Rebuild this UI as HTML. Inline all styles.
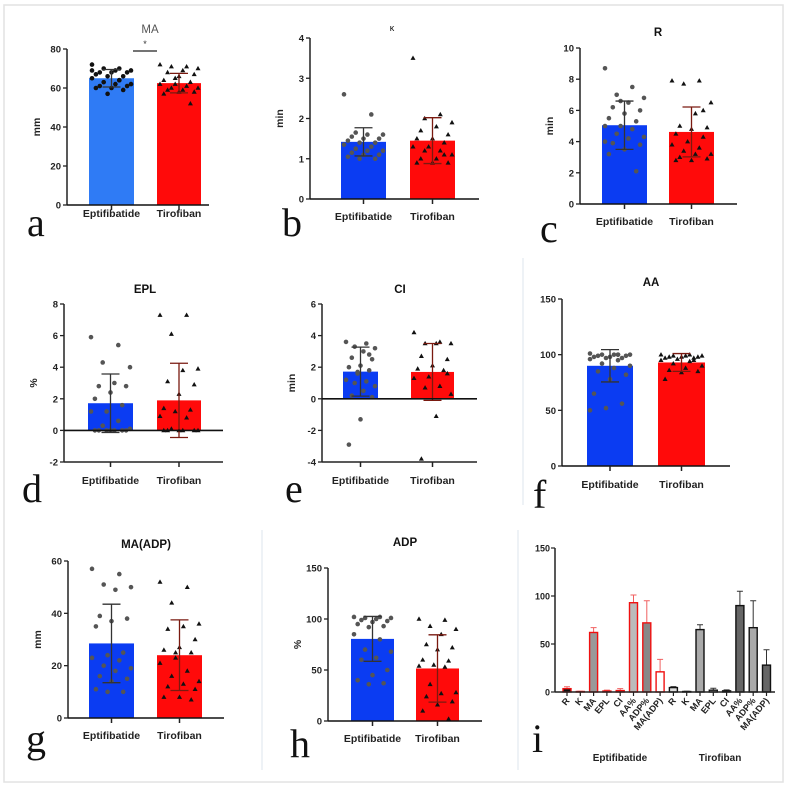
<!DOCTYPE html>
<html><head><meta charset="utf-8">
<style>
html,body{margin:0;padding:0;background:#fff;}
svg{display:block;font-family:"Liberation Sans",Arial,sans-serif;}
.tk{font-size:9.5px;font-weight:bold;fill:#222;}
.xl{font-size:10.5px;font-weight:bold;fill:#222;}
.tt{font-size:11.5px;font-weight:bold;fill:#111;}
.lt{font-family:"Liberation Serif",serif;font-size:40px;fill:#111;}
</style></head>
<body>
<svg id="fig" width="789" height="789" viewBox="0 0 789 789">
<rect x="4" y="5" width="779" height="777" fill="#fff" stroke="#e2e2e2" stroke-width="1.5"/>
<line x1="523" y1="258" x2="523" y2="505" stroke="#dde6ee" stroke-width="1"/>
<line x1="262" y1="530" x2="262" y2="770" stroke="#dde6ee" stroke-width="1"/>
<line x1="518" y1="530" x2="518" y2="770" stroke="#dde6ee" stroke-width="1"/>
</svg>
<script>
// ---- data ----
const groups = ["Eptifibatide", "Tirofiban"];
const maTicks = [0,20,40,60,80];
const maMeans = [65, 62.5];
const maSds = [4.5, 5];
const maE = [72,70,70,69,69,68,68,68,67,66,66,65,64,63,62,62,61,61,60,60,59,57,69,64];
const maT = [72,71,71,70,69,68,67,66,64,63,62,62,61,60,60,59,59,58,58,57,52,65];
const kTicks = [0,1,2,3,4];
const kMeans = [1.42, 1.45];
const kSds = [0.35, 0.57];
const kE = [2.6,2.1,1.65,1.6,1.6,1.55,1.5,1.5,1.45,1.4,1.4,1.35,1.3,1.25,1.2,1.2,1.15,1.1,1.1,1.05,1.0,1.0];
const kT = [3.5,2.1,2.0,1.9,1.8,1.7,1.6,1.5,1.5,1.4,1.3,1.3,1.2,1.2,1.1,1.0,1.0,0.9,0.9,0.9,1.1];
const rTicks = [0,2,4,6,8,10];
const rMeans = [5.05, 4.62];
const rSds = [1.55, 1.6];
const rE = [8.7,7.5,7.0,6.8,6.5,6.2,6.0,5.8,5.5,5.3,5.0,5.0,4.8,4.5,4.3,4.2,3.9,3.8,3.5,3.2,2.1,6.6,4.0];
const rT = [7.9,7.9,7.7,6.5,5.8,5.0,4.9,4.8,4.5,4.3,4.0,3.8,3.6,3.4,3.2,3.2,3.0,2.9,2.8,2.8,6.0];
const eplTicks = [-2,0,2,4,6,8];
const eplMeans = [1.72, 1.9];
const eplSds = [1.85, 2.35];
const eplE = [5.9,5.4,4.3,4.0,3.0,2.8,2.8,2.4,2.0,1.6,1.2,1.2,0.6,0.3,0.1,0,0,0,0,0,0,0];
const eplT = [7.3,7.3,6.1,3.9,3.8,3.1,2.9,2.3,1.4,1.3,1.2,0.9,0.8,0.1,0,0,0,0,0,0];
const ciTicks = [-4,-2,0,2,4,6];
const ciMeans = [1.72, 1.7];
const ciSds = [1.55, 1.8];
const ciE = [3.6,3.5,3.3,3.2,3.0,2.6,2.5,2.1,2.0,1.8,1.6,1.2,1.1,1.0,0.8,0.5,0.2,0.1,-1.3,-2.9,2.8,1.7];
const ciT = [4.2,3.6,3.5,3.5,3.5,2.7,2.5,2.1,1.9,1.8,1.4,1.3,0.8,0.7,0.3,-1.1,-3.8,1.6];
const aaTicks = [0,50,100,150];
const aaMeans = [90, 93];
const aaSds = [14.5, 8];
const aaE = [101,100,100,100,100,99,99,98,98,97,97,96,95,92,90,88,85,82,78,65,56,52,50,100];
const aaT = [100,100,99,99,99,98,98,98,97,97,96,95,94,92,90,88,86,85,84,78,95];
const madpTicks = [0,20,40,60];
const madpMeans = [28.5, 24];
const madpSds = [15, 13.5];
const madpE = [57,55,51,50,49,39,38,37,35,25,24,23,22,20,19,18,16,15,14,11,10,10];
const madpT = [52,50,44,36,35,34,30,27,26,25,23,21,18,16,14,13,12,11,8,8,7,25];
const adpTicks = [0,50,100,150];
const adpMeans = [80.5, 51.5];
const adpSds = [22, 33];
const adpE = [102,102,101,101,100,99,98,97,95,93,92,85,80,70,68,62,60,50,45,40,37,36];
const adpT = [100,99,93,90,85,75,72,70,60,59,55,54,53,36,28,27,24,19,16,10,2];
const iCats = ["R","K","MA","EPL","CI","AA%","ADP%","MA(ADP)"];
const iTicks = [0,50,100,150];
const iEmeans = [3.5,0.5,62,1,1.5,93,72,21];
const iEerr = [2,0.3,5,1,2,8,23,13];
const iTmeans = [4.6,0.5,65,1.9,1.2,90,67,28];
const iTerr = [1,0.3,5,2,1,15,28,16];

// ---- drawing ----
const NS = "http://www.w3.org/2000/svg";
const fig = document.getElementById("fig");
function mk(tag, attrs, parent, txt) {
  const e = document.createElementNS(NS, tag);
  for (const k in attrs) e.setAttribute(k, attrs[k]);
  if (txt !== undefined) e.textContent = txt;
  (parent || fig).appendChild(e);
  return e;
}
function scatterPanel(p) {
  const g = mk("g", {});
  
  
  const lo = p.ticks[0], hi = p.ticks[p.ticks.length - 1];
  const y = v => p.y0 + (v - lo) / (hi - lo) * (p.y1 - p.y0);
  const base = y(Math.max(lo, 0));
  // bars
  const bars = [[p.bE0, p.bE1, p.blue], [p.bT0, p.bT1, "#ff0a0a"]];
  bars.forEach((b, i) => {
    const m = p.means[i];
    const r = mk("rect", {x: b[0], y: Math.min(y(m), base), width: b[1] - b[0], height: Math.abs(base - y(m)), fill: b[2]}, g);
    
    
  });
  // points
  const pts = [p.ptsE, p.ptsT];
  pts.forEach((arr, i) => {
    const cx = (bars[i][0] + bars[i][1]) / 2;
    const w = (bars[i][1] - bars[i][0]) / 2 - 3;
    arr.forEach((v, j) => {
      const off = ((j * 7) % 11 - 5) / 5 * w;
      const px = cx + off, py = y(v);
      let el;
      if (i === 0) {
        el = mk("circle", {cx: px, cy: py, r: 2.3, fill: p.dotE}, g);
      } else {
        el = mk("path", {d: `M${px},${py-2.6}L${px+2.5},${py+1.8}L${px-2.5},${py+1.8}Z`, fill: "#111"}, g);
      }
      
      
    });
  });
  // error bars
  bars.forEach((b, i) => {
    const cx = (b[0] + b[1]) / 2;
    const col = i === 0 ? "#333" : "#7a1a10";
    const m = p.means[i], s = p.sds[i];
    const eb = mk("path", {d: `M${cx},${y(m-s)}V${y(m+s)}M${cx-9},${y(m+s)}H${cx+9}M${cx-9},${y(m-s)}H${cx+9}`, stroke: col, "stroke-width": 1.3, fill: "none"}, g);
    
    
  });
  // axes
  const ya = mk("line", {x1: p.ax, x2: p.ax, y1: y(lo), y2: y(hi), stroke: "#222", "stroke-width": 1.5}, g);
  
  
  const xa = mk("line", {x1: p.ax, x2: p.axEnd, y1: base, y2: base, stroke: "#111", "stroke-width": 1.6}, g);
  
  
  if (lo < 0) mk("line", {x1: p.ax, x2: p.axEnd, y1: y(lo), y2: y(lo), stroke: "#222", "stroke-width": 1.5}, g);
  p.ticks.forEach(t => {
    mk("line", {x1: p.ax - 4, x2: p.ax, y1: y(t), y2: y(t), stroke: "#222", "stroke-width": 1.3}, g);
    const tl = mk("text", {x: p.ax - 6, y: y(t) + 3.5, "text-anchor": "end", class: "tk"}, g, String(t));
    
    
  });
  const xb = lo < 0 ? y(lo) : base;
  bars.forEach((b, i) => {
    const cx = (b[0] + b[1]) / 2;
    mk("line", {x1: cx, x2: cx, y1: xb, y2: xb + 5, stroke: "#222", "stroke-width": 1.5}, g);
    const xl = mk("text", {x: cx, y: p.labY, "text-anchor": "middle", class: "xl"}, g, groups[i]);
    
    
  });
  const yt = mk("text", {x: p.ax - 27, y: (y(lo) + y(hi)) / 2, "text-anchor": "middle", class: "xl", transform: `rotate(-90 ${p.ax - 27} ${(y(lo) + y(hi)) / 2})`}, g, p.ylabel);
  
  
  const tt = mk("text", {x: p.tx, y: p.ty, "text-anchor": "middle", class: "tt", style: p.titleStyle || ""}, g, p.title);
  
  
  const lt = mk("text", {x: p.lx, y: p.ly, class: "lt"}, g, p.id);
  
  
  return g;
}
const B = "#0b3cf2";
scatterPanel({id:"a", ticks:maTicks, means:maMeans, sds:maSds, ptsE:maE, ptsT:maT, ax:67, axEnd:209, y0:205, y1:49, bE0:89, bE1:134, bT0:157, bT1:201, blue:"#2f7bf5", dotE:"#111", labY:217, ylabel:"mm", title:"MA", tx:150, ty:33, titleStyle:"font-weight:normal;fill:#555", lx:27, ly:236});
const sig = mk("path", {d:"M133,51H157", stroke:"#222", "stroke-width":1.2});


const star = mk("text", {x:145, y:47, "text-anchor":"middle", style:"font-size:9px;fill:#333"}, fig, "*");


scatterPanel({id:"b", ticks:kTicks, means:kMeans, sds:kSds, ptsE:kE, ptsT:kT, ax:310, axEnd:479, y0:199, y1:38, bE0:341, bE1:386, bT0:410, bT1:455, blue:B, dotE:"#555", labY:220, ylabel:"min", title:"κ", tx:392, ty:31, titleStyle:"font-weight:normal;font-size:9px", lx:282, ly:236});
scatterPanel({id:"c", ticks:rTicks, means:rMeans, sds:rSds, ptsE:rE, ptsT:rT, ax:580, axEnd:737, y0:204, y1:48, bE0:602, bE1:647, bT0:669, bT1:714, blue:B, dotE:"#555", labY:225, ylabel:"min", title:"R", tx:658, ty:36, lx:540, ly:242});
scatterPanel({id:"d", ticks:eplTicks, means:eplMeans, sds:eplSds, ptsE:eplE, ptsT:eplT, ax:64, axEnd:223, y0:462, y1:304, bE0:88, bE1:133, bT0:157, bT1:201, blue:B, dotE:"#555", labY:484, ylabel:"%", title:"EPL", tx:145, ty:293, lx:22, ly:502});
scatterPanel({id:"e", ticks:ciTicks, means:ciMeans, sds:ciSds, ptsE:ciE, ptsT:ciT, ax:322, axEnd:477, y0:462, y1:304, bE0:343, bE1:378, bT0:411, bT1:454, blue:B, dotE:"#555", labY:484, ylabel:"min", title:"CI", tx:400, ty:293, lx:285, ly:502});
scatterPanel({id:"f", ticks:aaTicks, means:aaMeans, sds:aaSds, ptsE:aaE, ptsT:aaT, ax:562, axEnd:730, y0:466, y1:299, bE0:587, bE1:633, bT0:658, bT1:705, blue:B, dotE:"#555", labY:488, ylabel:"", title:"AA", tx:651, ty:286, lx:533, ly:508});
scatterPanel({id:"g", ticks:madpTicks, means:madpMeans, sds:madpSds, ptsE:madpE, ptsT:madpT, ax:68, axEnd:224, y0:718, y1:561, bE0:89, bE1:134, bT0:157, bT1:202, blue:B, dotE:"#555", labY:739, ylabel:"mm", title:"MA(ADP)", tx:146, ty:548, lx:26, ly:752});
scatterPanel({id:"h", ticks:adpTicks, means:adpMeans, sds:adpSds, ptsE:adpE, ptsT:adpT, ax:328, axEnd:482, y0:721, y1:568, bE0:351, bE1:394, bT0:416, bT1:459, blue:B, dotE:"#555", labY:742, ylabel:"%", title:"ADP", tx:405, ty:546, lx:290, ly:757});

// ---- panel i ----
(function(){
  const g = mk("g", {});
  
  
  const ax = 555, axEnd = 775, y0 = 692, y1 = 548;
  const y = v => y0 - v / 150 * (y0 - y1);
  const xc = k => 567 + k * 13.3;
  const eFill = ["#111","#ddd","#999","#ddd","#ddd","#bbb","#888","#fff"];
  const tFill = ["#ddd","#ddd","#aaa","#ddd","#ddd","#666","#aaa","#666"];
  const sets = [[iEmeans, iEerr, eFill, "#f01010", 0, "eptifibatide"], [iTmeans, iTerr, tFill, "#111", 8, "tirofiban"]];
  sets.forEach(s => {
    s[0].forEach((v, k) => {
      const cx = xc(k + s[4]);
      const er = mk("path", {d:`M${cx},${y(v)}V${y(v + s[1][k])}M${cx-3},${y(v + s[1][k])}H${cx+3}`, stroke: s[5]==="eptifibatide" ? "#f06060" : "#333", "stroke-width":1}, g);
      
      
      const r = mk("rect", {x: cx - 4, y: y(v), width: 8, height: Math.max(0.5, y0 - y(v)), fill: s[2][k], stroke: s[3], "stroke-width": 1.4}, g);
      
      
      mk("line", {x1: cx, x2: cx, y1: y0, y2: y0 + 4, stroke: "#222", "stroke-width": 1.2}, g);
      const tl = mk("text", {x: cx + 3, y: y0 + 9, "text-anchor": "end", class: "tk", style: "font-size:9px", transform: `rotate(-50 ${cx + 3} ${y0 + 9})`}, g, iCats[k]);
      
      
    });
  });
  const ya = mk("line", {x1: ax, x2: ax, y1: y0, y2: y1, stroke: "#222", "stroke-width": 1.5}, g);
  
  
  const xa = mk("line", {x1: ax, x2: axEnd, y1: y0, y2: y0, stroke: "#222", "stroke-width": 1.5}, g);
  
  
  iTicks.forEach(t => {
    mk("line", {x1: ax - 4, x2: ax, y1: y(t), y2: y(t), stroke: "#222", "stroke-width": 1.2}, g);
    const tl = mk("text", {x: ax - 5, y: y(t) + 3.5, "text-anchor": "end", class: "tk", style: "font-size:9px"}, g, String(t));
    
    
  });
  const gl1 = mk("text", {x: 620, y: 761, "text-anchor": "middle", class: "xl", style: "font-size:10px"}, g, "Eptifibatide");
  
  
  const gl2 = mk("text", {x: 720, y: 761, "text-anchor": "middle", class: "xl", style: "font-size:10px"}, g, "Tirofiban");
  
  
  const lt = mk("text", {x: 532, y: 752, class: "lt"}, g, "i");
  
  
})();
</script>
</body></html>
